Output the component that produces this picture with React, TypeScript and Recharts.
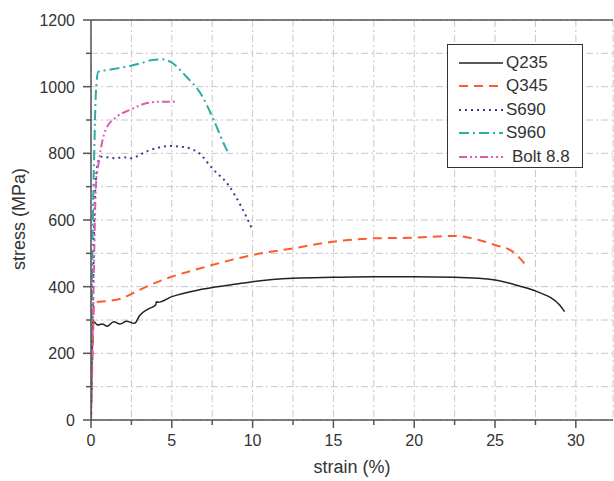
import React from "react";
import {
  LineChart,
  Line,
  XAxis,
  YAxis,
  CartesianGrid,
  ReferenceLine,
} from "recharts";

// ─── Data ────────────────────────────────────────────────────────────────────

const q235Strain = [0, 0.05, 0.1, 0.25, 0.4, 0.7, 1.0, 1.4, 1.8, 2.2, 2.7, 3.0, 3.5, 4.0, 4.05, 4.15, 5, 6.85, 8.6, 10, 12.5, 15, 17.5, 20, 22.5, 25, 26.5, 27.6, 29, 29.3];
const q235Stress = [0, 150, 298, 292, 285, 288, 281, 295, 288, 296, 290, 313, 332, 345, 355, 353, 370, 392, 405, 415, 425, 428, 430, 430, 428, 420, 402, 385, 345, 325];

const q345Strain = [0, 0.1, 0.2, 0.56, 1.2, 1.9, 2.9, 3.9, 5, 6.4, 7.5, 10, 12.5, 15, 17.5, 20, 22.5, 24, 25, 26.1, 26.9];
const q345Stress = [0, 200, 352, 355, 358, 365, 388, 410, 430, 450, 465, 495, 515, 535, 545, 547, 552, 540, 525, 505, 465];

const s690Strain = [0, 0.1, 0.2, 0.3, 0.45, 0.6, 1, 1.5, 2, 2.5, 3, 3.4, 4, 4.9, 5.5, 6.1, 6.7, 7.5, 8.5, 9.3, 10];
const s690Stress = [0, 300, 600, 720, 775, 790, 788, 785, 788, 785, 795, 805, 815, 822, 820, 815, 800, 755, 705, 640, 570];

const s960Strain = [0, 0.1, 0.2, 0.3, 0.45, 1.3, 2.4, 3.2, 3.8, 4.4, 4.9, 5.9, 6.9, 7.5, 8.3, 8.5];
const s960Stress = [0, 550, 800, 980, 1045, 1052, 1062, 1072, 1080, 1082, 1075, 1030, 970, 910, 820, 800];

const boltStrain = [0, 0.1, 0.2, 0.3, 0.5, 0.9, 1.6, 2.4, 3.4, 4.2, 5.2];
const boltStress = [0, 250, 500, 700, 780, 870, 910, 930, 950, 955, 955];

const xTicks = [0, 2.5, 5, 7.5, 10, 12.5, 15, 17.5, 20, 22.5, 25, 27.5, 30];
const yTicks = [0, 100, 200, 300, 400, 500, 600, 700, 800, 900, 1000, 1100, 1200];

const zip = (xs: number[], ys: number[]) => xs.map((x, i) => ({ x, y: ys[i] }));

const SERIES = [
  { name: "Q235", data: zip(q235Strain, q235Stress), color: "#222222", dash: undefined, width: 1.5 },
  { name: "Q345", data: zip(q345Strain, q345Stress), color: "#ff5a2a", dash: "9 6", width: 2 },
  { name: "S690", data: zip(s690Strain, s690Stress), color: "#3b3b9c", dash: "2 4", width: 2 },
  { name: "S960", data: zip(s960Strain, s960Stress), color: "#2aaea4", dash: "10 4 2 4", width: 2 },
  { name: "Bolt 8.8", data: zip(boltStrain, boltStress), color: "#de5cb0", dash: "8 3 2 3 2 3", width: 2 },
];

const FONT = "'Liberation Sans', Arial, sans-serif";
const TEXT = "#333333";
const AXIS = "#555555";

// ─── Ticks: long for labelled values, short for the minor ones ───────────────

function XTick({ x, y, payload }: any) {
  const major = payload.value % 5 === 0;
  return (
    <g>
      <line x1={x} x2={x} y1={y} y2={y + (major ? 8 : 5)} stroke={AXIS} strokeWidth={1.5} />
      {major && (
        <text x={x} y={y + 26} textAnchor="middle" fill={TEXT} fontSize={16} fontFamily={FONT}>
          {payload.value}
        </text>
      )}
    </g>
  );
}

function YTick({ x, y, payload }: any) {
  const major = payload.value % 200 === 0;
  return (
    <g>
      <line x1={x} x2={x - (major ? 8 : 5)} y1={y} y2={y} stroke={AXIS} strokeWidth={1.5} />
      {major && (
        <text x={x - 16} y={y + 6} textAnchor="end" fill={TEXT} fontSize={16} fontFamily={FONT}>
          {payload.value}
        </text>
      )}
    </g>
  );
}

// ─── Legend box (overlay, so it does not shrink the plot) ────────────────────

function LegendBox() {
  return (
    <div
      style={{
        position: "absolute",
        left: 447,
        top: 44,
        width: 136,
        height: 124,
        border: "1px solid #333",
        background: "#fff",
        fontFamily: FONT,
        fontSize: 17,
        color: TEXT,
        paddingTop: 6,
        boxSizing: "border-box",
      }}
    >
      {SERIES.map((s) => (
        <div key={s.name} style={{ display: "flex", alignItems: "center", height: 23.5 }}>
          <svg width={58} height={10} style={{ flex: "none" }}>
            <line x1={11} y1={5} x2={55} y2={5} stroke={s.color} strokeWidth={s.width} strokeDasharray={s.dash} />
          </svg>
          <span style={{ marginLeft: s.name === "Bolt 8.8" ? 6 : 0 }}>{s.name}</span>
        </div>
      ))}
    </div>
  );
}

function YLabel() {
  return (
    <text
      x={19}
      y={219}
      transform="rotate(-90, 19, 219)"
      textAnchor="middle"
      dominantBaseline="central"
      fill={TEXT}
      fontSize={18}
      fontFamily={FONT}
    >
      stress (MPa)
    </text>
  );
}

// ─── Main ────────────────────────────────────────────────────────────────────

export default function App() {
  return (
    <div style={{ position: "absolute", left: 0, top: 0, width: 614, height: 481, background: "#fff" }}>
      <LineChart
        width={614}
        height={481}
        margin={{ top: 20, right: 1, left: 31, bottom: 6 }}
      >
        <CartesianGrid stroke="#c8c8c8" strokeDasharray="7 3 2 3" />
        <XAxis
          type="number"
          dataKey="x"
          domain={[0, 32.3]}
          ticks={xTicks}
          allowDataOverflow
          height={55}
          tickSize={0}
          tickMargin={0}
          tickLine={false}
          axisLine={{ stroke: AXIS, strokeWidth: 1.5 }}
          tick={<XTick />}
          label={{ value: "strain (%)", position: "insideBottom", offset: 2, fill: TEXT, fontSize: 18, fontFamily: FONT }}
        />
        <YAxis
          type="number"
          dataKey="y"
          domain={[0, 1200]}
          ticks={yTicks}
          width={60}
          tickSize={0}
          tickMargin={0}
          tickLine={false}
          axisLine={{ stroke: AXIS, strokeWidth: 1.5 }}
          tick={<YTick />}
          label={<YLabel />}
        />
        <ReferenceLine y={1200} stroke={AXIS} strokeWidth={1.5} />
        {SERIES.map((s) => (
          <Line
            key={s.name}
            data={s.data}
            dataKey="y"
            name={s.name}
            type="monotone"
            stroke={s.color}
            strokeWidth={s.width}
            strokeDasharray={s.dash}
            dot={false}
            activeDot={false}
            isAnimationActive={false}
          />
        ))}
      </LineChart>
      <LegendBox />
    </div>
  );
}
